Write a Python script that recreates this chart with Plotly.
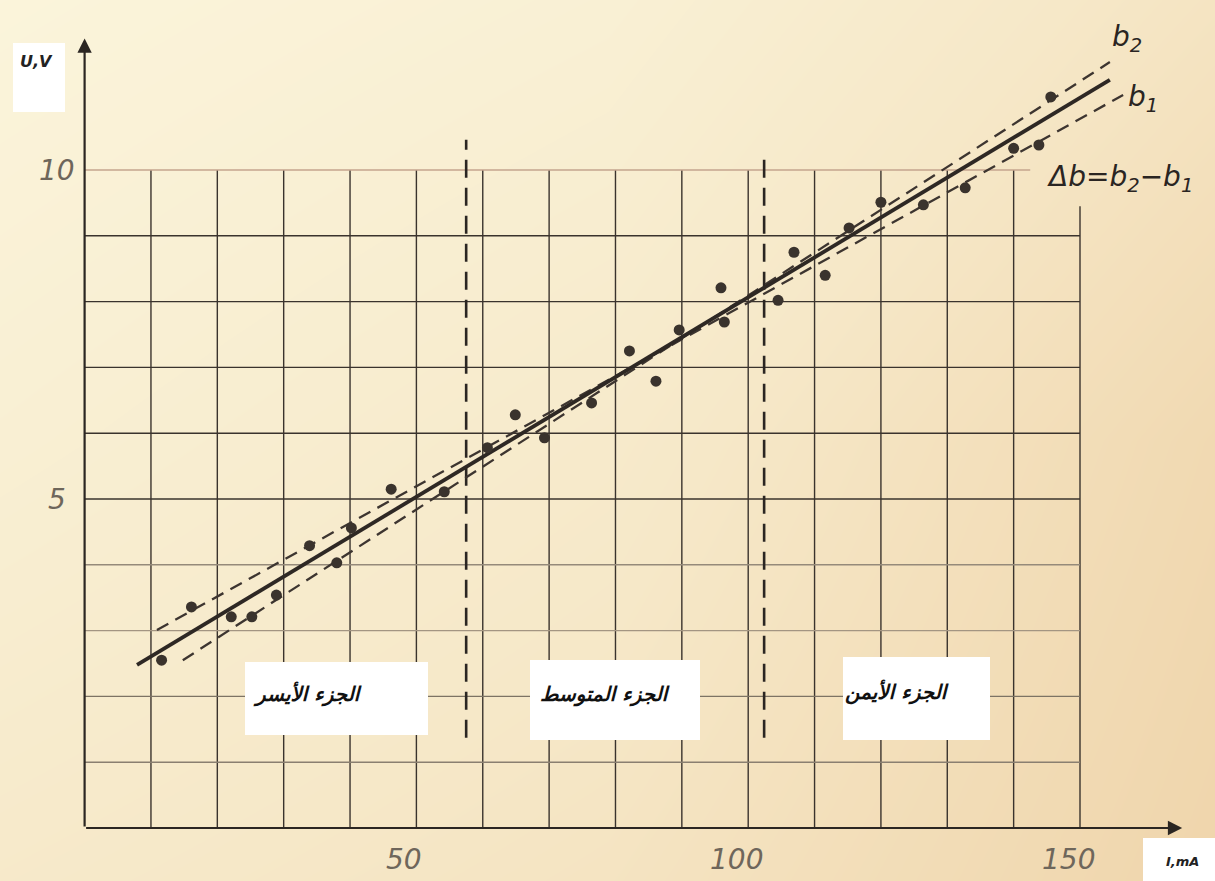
import plotly.graph_objects as go

# ---------------- data ----------------
current_mA = [11.6, 16.1, 22.1, 25.2, 28.9, 33.9, 38.0, 40.2, 46.2, 54.2,
              60.7, 64.9, 69.3, 76.4, 82.1, 86.1, 89.6, 95.9, 96.4, 104.5,
              106.9, 111.6, 115.2, 120.0, 126.4, 132.7, 140.0, 143.8, 145.6]
voltage_V = [2.55, 3.36, 3.21, 3.21, 3.54, 4.29, 4.03, 4.56, 5.15, 5.11,
             5.78, 6.28, 5.93, 6.46, 7.25, 6.79, 7.57, 8.21, 7.69, 8.02,
             8.75, 8.40, 9.12, 9.51, 9.47, 9.73, 10.33, 10.38, 11.11]

fit_I = [7.9, 154.5]
fit_U = [2.48, 11.37]
b2_I = [14.8, 154.5]
b2_U = [2.55, 11.64]
b1_I = [10.9, 156.5]
b1_U = [3.01, 11.14]

divider_I = [57.5, 102.4]
divider_top_U = [10.46, 10.30]
divider_bottom_U = [1.37, 1.37]

axis_end_I = 165.4
axis_end_U = 12.0

grid_I = [10, 20, 30, 40, 50, 60, 70, 80, 90, 100, 110, 120, 130, 140, 150]
grid_U = [1, 2, 3, 4, 5, 6, 7, 8, 9, 10]
x_tick_vals = [50, 100, 150]
x_tick_text = ["50", "100", "150"]
y_tick_vals = [5, 10]
y_tick_text = ["5", "10"]
region_labels = ["الجزء الأيسر", "الجزء المتوسط", "الجزء الأيمن"]

# ---------------- geometry helpers (pixel layout) ----------------
W, H = 1215, 881
PX_PER_I = 6.636
X0_PX = 84.6
PX_PER_U = 65.8
Y0_PX = 828.0
x_range = [-X0_PX / PX_PER_I, (W - X0_PX) / PX_PER_I]
y_range = [(Y0_PX - H) / PX_PER_U, Y0_PX / PX_PER_U]


def px(x):
    return x / W


def py(y):
    return 1 - y / H


INK = "#2b2622"
fig = go.Figure()

# paper tone background
bg_x = [x_range[0] - 5, (x_range[0] + x_range[1]) / 2, x_range[1] + 5]
bg_y = [y_range[0] - 1, (y_range[0] + y_range[1]) / 2, y_range[1] + 1]
bg_z = [[0.45, 0.6, 0.95],
        [0.2, 0.4, 0.85],
        [0.0, 0.15, 0.55]]
fig.add_trace(go.Heatmap(x=bg_x, y=bg_y, z=bg_z, zsmooth="best", showscale=False,
                         hoverinfo="skip",
                         colorscale=[[0, "#fbf5dc"], [0.5, "#f6e8c8"], [1, "#efd4aa"]]))

# grid: vertical lines
for i in grid_I:
    top = grid_U[-1] if i < grid_I[-1] else 9.45
    fig.add_trace(go.Scatter(x=[i, i], y=[0, top], mode="lines",
                             line=dict(color="#3a332d", width=1.4),
                             hoverinfo="skip", showlegend=False))
# grid: horizontal lines
h_colors = {1: "#8a7f70", 2: "#7d7364", 3: "#a39582", 4: "#958a7a",
            10: "#c4a58e"}
for u in grid_U:
    right = grid_I[-1] if u < grid_U[-1] else 142.5
    fig.add_trace(go.Scatter(x=[0, right], y=[u, u], mode="lines",
                             line=dict(color=h_colors.get(u, "#3a332d"), width=1.4),
                             hoverinfo="skip", showlegend=False))

# section dividers
for xi, yt, yb in zip(divider_I, divider_top_U, divider_bottom_U):
    fig.add_trace(go.Scatter(x=[xi, xi], y=[yb, yt], mode="lines",
                             line=dict(color=INK, width=2.6, dash="18px,10px"),
                             hoverinfo="skip", showlegend=False))

# confidence lines
fig.add_trace(go.Scatter(x=b2_I, y=b2_U, mode="lines",
                         line=dict(color="#3d3530", width=2.3, dash="13px,8px"),
                         showlegend=False))
fig.add_trace(go.Scatter(x=b1_I, y=b1_U, mode="lines",
                         line=dict(color="#3d3530", width=2.3, dash="13px,8px"),
                         showlegend=False))
# fitted line
fig.add_trace(go.Scatter(x=fit_I, y=fit_U, mode="lines",
                         line=dict(color="#2e2824", width=3.8),
                         showlegend=False))
# measured points
fig.add_trace(go.Scatter(x=current_mA, y=voltage_V, mode="markers",
                         marker=dict(color="#3a332d", size=11),
                         showlegend=False))

annotations = []
# axis arrows
annotations.append(dict(x=axis_end_I, y=0, ax=0, ay=0, xref="x", yref="y",
                        axref="x", ayref="y", showarrow=True, arrowhead=2,
                        arrowsize=1.3, arrowwidth=2.2, arrowcolor=INK, text=""))
annotations.append(dict(x=0, y=axis_end_U, ax=0, ay=0, xref="x", yref="y",
                        axref="x", ayref="y", showarrow=True, arrowhead=2,
                        arrowsize=1.3, arrowwidth=2.2, arrowcolor=INK, text=""))

tick_font = dict(family="DejaVu Sans", size=28, color="#6e665b", style="italic")
for v, t in zip(x_tick_vals, x_tick_text):
    annotations.append(dict(x=v - 1.8, y=-0.48, xref="x", yref="y", showarrow=False,
                            xanchor="center", yanchor="middle",
                            text=t, font=tick_font))
for v, t in zip(y_tick_vals, y_tick_text):
    annotations.append(dict(x=-4.2, y=v, xref="x", yref="y", showarrow=False,
                            xanchor="center", yanchor="middle",
                            text=t, font=tick_font))

shapes = []
# white label boxes (paper coords from pixel layout)
boxes = [(13, 43, 65, 112), (1143, 838, 1215, 881),
         (245, 662, 428, 735), (530, 660, 700, 740), (843, 657, 990, 740)]
for x1, y1, x2, y2 in boxes:
    shapes.append(dict(type="rect", xref="paper", yref="paper",
                       x0=px(x1), x1=px(x2), y0=py(y2), y1=py(y1),
                       fillcolor="white", line=dict(width=0), layer="above"))


def paper_text(x, y, text, font):
    annotations.append(dict(x=px(x), y=py(y), xref="paper", yref="paper",
                            showarrow=False, xanchor="center", yanchor="middle",
                            text=text, font=font))


paper_text(36, 61, "U,V", dict(family="DejaVu Sans", size=16, color="#222",
                               weight="bold", style="italic"))
paper_text(1182, 861, "I,mA", dict(family="DejaVu Sans", size=13, color="#222",
                                   weight="bold", style="italic"))

label_pos = [(307, 694), (605, 694), (897, 692)]
for (lx, ly), t in zip(label_pos, region_labels):
    paper_text(lx, ly, t, dict(family="DejaVu Sans", size=20, color="#111",
                               weight="bold", style="italic"))

line_font = dict(family="DejaVu Sans", size=28, color="#2a2522", style="italic")
annotations.append(dict(x=b2_I[-1], y=b2_U[-1], xref="x", yref="y", showarrow=False,
                        xanchor="center", yanchor="middle",
                        xshift=17, yshift=24, text="b<sub>2</sub>", font=line_font))
annotations.append(dict(x=b1_I[-1], y=b1_U[-1], xref="x", yref="y", showarrow=False,
                        xanchor="center", yanchor="middle",
                        xshift=20, yshift=-4, text="b<sub>1</sub>", font=line_font))
paper_text(1120, 178, "Δb=b<sub>2</sub>−b<sub>1</sub>",
           dict(family="DejaVu Sans", size=28, color="#2a2522", style="italic"))

fig.update_layout(width=W, height=H, margin=dict(l=0, r=0, t=0, b=0),
                  paper_bgcolor="#f7ecd0", plot_bgcolor="#f7ecd0",
                  xaxis=dict(range=x_range, visible=False, fixedrange=True),
                  yaxis=dict(range=y_range, visible=False, fixedrange=True),
                  shapes=shapes, annotations=annotations, showlegend=False)

fig.write_html("out.html")
